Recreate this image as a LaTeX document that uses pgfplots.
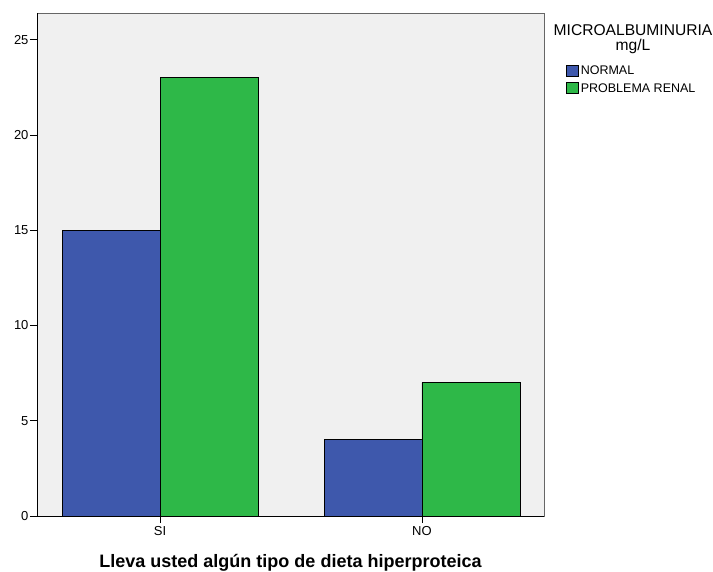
\documentclass[border=0pt]{standalone}
\usepackage{pgfplots}
\pgfplotsset{compat=1.18}
\usepackage{fontspec}
\setmainfont{Liberation Sans}
\definecolor{bblue}{RGB}{62,88,172}
\definecolor{bgreen}{RGB}{46,184,72}
\definecolor{panel}{RGB}{240,240,240}
\begin{document}
\begin{tikzpicture}[x=1pt,y=1pt]
\useasboundingbox (0,0) rectangle (713,571);
\begin{axis}[
  at={(37pt,55pt)}, anchor=south west,
  scale only axis, width=507pt, height=503pt,
  axis background/.style={fill=panel},
  ybar=0pt, bar width=0.374,
  xmin=-0.47, xmax=1.466, ymin=0, ymax=26.4,
  xtick=data, xticklabels={SI,NO},
  ytick={0,5,10,15,20,25},
  xtick pos=bottom, ytick pos=left,
  tick align=outside, major tick length=7pt,
  tick style={black, line width=0.8pt},
  axis line style={draw=gray!80!black, line width=0.8pt},
  ticklabel style={font=\fontsize{13}{13}\selectfont},
  yticklabel style={xshift=2pt},
  /pgf/number format/assume math mode=true,
  legend style={at={(axis description cs:1,1)}, anchor=north west, xshift=22pt, yshift=-51pt,
    draw=none, fill=none, font=\fontsize{12.5}{12.5}\selectfont, inner sep=0pt, row sep=3pt,
    /tikz/every even column/.append style={column sep=1pt}},
  legend cell align=left,
  legend image code/.code={\draw[#1, draw=black] (0pt,-4.5pt) rectangle (12pt,6pt);},
]
\addplot[fill=bblue, draw=black, line width=0.6pt] coordinates {(0,15) (1,4)};
\addplot[fill=bgreen, draw=black, line width=0.6pt] coordinates {(0,23) (1,7)};
\legend{NORMAL, PROBLEMA RENAL}
\draw[black, line width=1pt] (rel axis cs:0,0) -- (rel axis cs:1,0);
\draw[black, line width=1pt] (rel axis cs:0,0) -- (rel axis cs:0,1);
\end{axis}
\node[font=\fontsize{15.6}{15}\selectfont, align=center, inner sep=0pt] at (633,531.5) {MICROALBUMINURIA\\mg/L};
\node[font=\fontsize{18}{18}\bfseries\selectfont] at (290.5,8) {Lleva usted algún tipo de dieta hiperproteica};
\end{tikzpicture}
\end{document}
